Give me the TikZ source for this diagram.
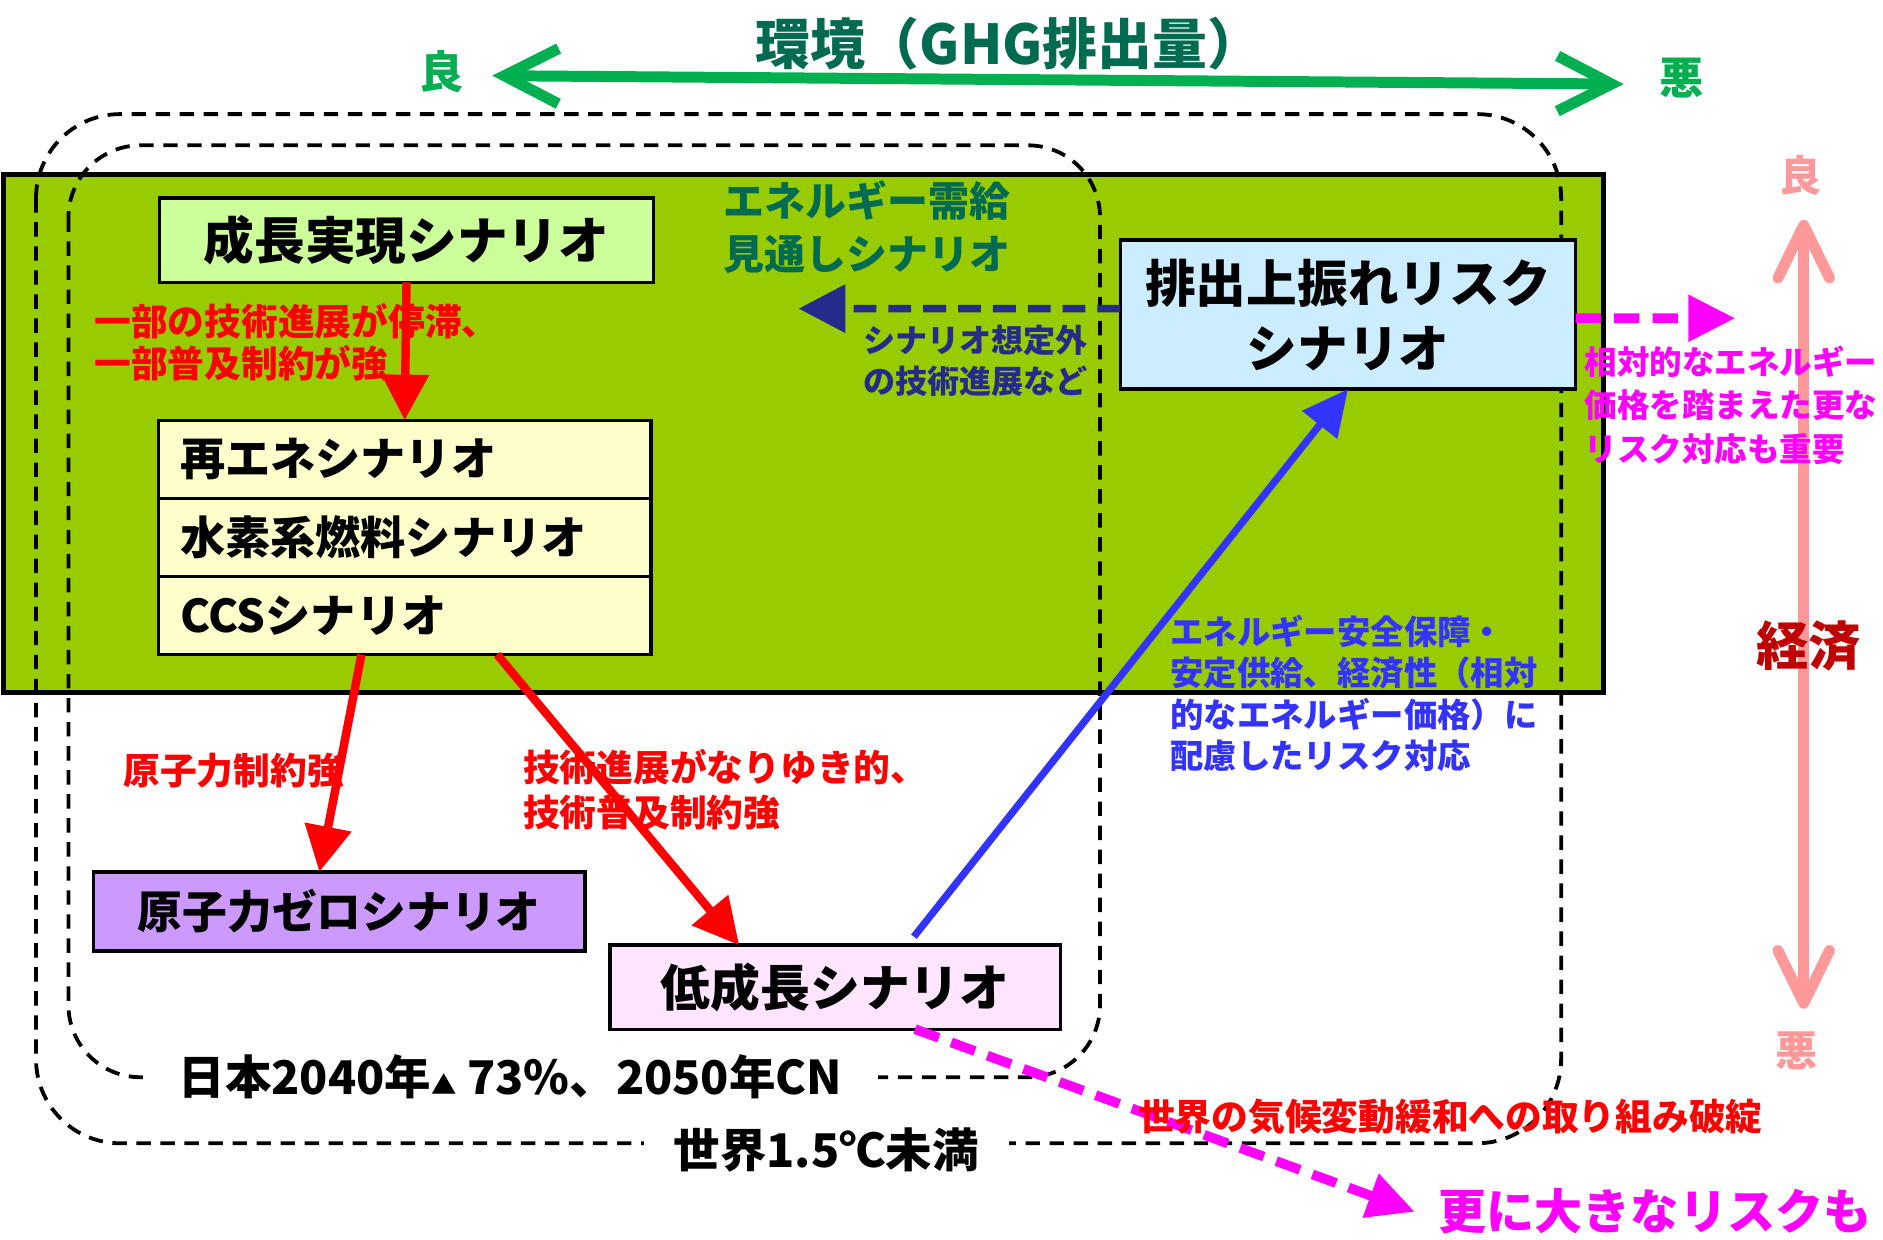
\documentclass[tikz,border=0pt]{standalone}
\usepackage{fontspec}
\setmainfont{Noto Sans CJK JP}
\usepackage{tikz}
\usetikzlibrary{arrows.meta, positioning, calc}
\definecolor{fieldgreen}{HTML}{99CC00}
\definecolor{axisgreen}{HTML}{00B050}
\definecolor{titlegreen}{HTML}{006B50}
\definecolor{navyline}{HTML}{262A8A}
\definecolor{riskblue}{HTML}{3333FF}
\definecolor{econpink}{HTML}{FF9999}
\definecolor{econred}{HTML}{C00000}
\definecolor{hotmagenta}{HTML}{FF00FF}
\definecolor{growfill}{HTML}{CCFF99}
\definecolor{techfill}{HTML}{FFFFCC}
\definecolor{riskfill}{HTML}{CCECFF}
\definecolor{nucfill}{HTML}{CC99FF}
\definecolor{lowfill}{HTML}{FFE5FF}

\begin{document}
\begin{tikzpicture}[x=0.01cm, y=-0.01cm, font=\bfseries,
    scenbox/.style={draw=black, line width=0.8pt, inner sep=0pt, outer sep=0pt, text=black},
    techbox/.style={scenbox, fill=techfill, minimum width=4.1cm, minimum height=0.65cm, text width=3.74cm, inner xsep=0.18cm, align=left, font=\bfseries\fontsize{10.7}{12}\selectfont},
    note/.style={inner sep=0pt, anchor=west, align=left},
    zone/.style={black, line width=0.9pt, dash pattern=on 0.12cm off 0.08cm},
    zonelabel/.style={fill=white, inner ysep=0.05cm, font=\bfseries\fontsize{11}{13}\selectfont},
    push/.style={red, line width=2pt, -{Triangle[length=0.38cm, width=0.38cm]}},
    hedge/.style={riskblue, line width=1.7pt, -{Triangle[length=0.38cm, width=0.36cm]}},
    outside/.style={navyline, line width=1.8pt, dash pattern=on 0.19cm off 0.1cm, -{Triangle[length=0.39cm, width=0.39cm]}},
    worsen/.style={hotmagenta, line width=2.3pt, dash pattern=on 0.21cm off 0.11cm, -{Triangle[length=0.39cm, width=0.37cm]}}]
  \useasboundingbox (0,0) rectangle (1568,1032);

  % shaded zone of the outlook scenarios
  \draw[fill=fieldgreen, line width=1.2pt] (3,145) rectangle (1335,577);
  \draw[zone, rounded corners=0.7cm] (30,95) rectangle (1300,952);
  \draw[zone, rounded corners=0.6cm] (57,121) rectangle (916,897);
  \node[zonelabel, inner xsep=0.3cm] (jpn) at (425,897) {日本2040年{\fontsize{6}{7}\selectfont▲} 73\%、2050年CN};
  \node[zonelabel, inner xsep=0.25cm] (world) at (688,958) {世界1.5℃未満};

  % environment axis
  \node[text=titlegreen, font=\bfseries\fontsize{13}{15}\selectfont] (envtitle) at (840,36) {環境（GHG排出量）};
  \node[text=axisgreen, font=\bfseries\fontsize{10.5}{12}\selectfont] (envgood) at (368,60) {良};
  \node[text=axisgreen, font=\bfseries\fontsize{10.5}{12}\selectfont] (envbad) at (1400,65) {悪};
  \coordinate (envL) at (410,63);
  \coordinate (envR) at (1352,70);
  \draw[axisgreen, line width=2.6pt, {Straight Barb[length=0.45cm, width=0.46cm]}-{Straight Barb[length=0.45cm, width=0.46cm]}] (envL) -- (envR);

  % economy axis
  \coordinate (ecoT) at (1502,183);
  \coordinate (ecoB) at (1502,840);
  \draw[econpink, line width=2.6pt, {Straight Barb[length=0.44cm, width=0.43cm, round]}-{Straight Barb[length=0.44cm, width=0.43cm, round]}] (ecoT) -- (ecoB);
  \node[text=econpink, font=\bfseries\fontsize{10}{12}\selectfont] (ecogood) at (1499,146) {良};
  \node[text=econpink, font=\bfseries\fontsize{10}{12}\selectfont] (ecobad) at (1496,875) {悪};
  \node[text=econred, font=\bfseries\fontsize{12.4}{14}\selectfont] (econ) at (1506,538) {経済};

  % scenarios
  \node[scenbox, fill=growfill, minimum width=4.11cm, minimum height=0.7cm, font=\bfseries\fontsize{12}{14}\selectfont] (grow) at (338.5,200) {成長実現シナリオ};
  \node[techbox] (ren) at (337,382.5) {再エネシナリオ};
  \node[techbox, below=0pt of ren] (hyd) {水素系燃料シナリオ};
  \node[techbox, below=0pt of hyd] (ccs) {CCSシナリオ};
  \node[scenbox, fill=riskfill, minimum width=3.79cm, minimum height=1.24cm, align=center, font=\bfseries\fontsize{12}{15.4}\selectfont] (risk) at (1122.5,262) {排出上振れリスク\\シナリオ};
  \node[scenbox, fill=nucfill, minimum width=4.09cm, minimum height=0.66cm, font=\bfseries\fontsize{10.6}{12}\selectfont] (nuc) at (282.5,759) {原子力ゼロシナリオ};
  \node[scenbox, fill=lowfill, minimum width=3.75cm, minimum height=0.7cm, font=\bfseries\fontsize{11.8}{14}\selectfont] (low) at (695.5,822) {低成長シナリオ};

  % connectors
  \coordinate (navyend) at (665,257);
  \coordinate (magend) at (1445,265);
  \coordinate (worse) at (1178,1009);
  \draw[push] (grow.south) -- (ren.north);
  \draw[push] ([xshift=-0.36cm]ccs.south) -- ([xshift=-0.165cm]nuc.north);
  \draw[push] ([xshift=0.77cm]ccs.south) -- ([xshift=-0.8cm]low.north);
  \draw[hedge] ([xshift=0.655cm, yshift=0.07cm]low.north) -- (risk.south);
  \draw[outside] ([yshift=0.05cm]risk.west) -- (navyend);
  \draw[worsen] ([yshift=-0.03cm]risk.east) -- (magend);
  \draw[worsen] ([xshift=0.665cm]low.south) -- (worse);

  % notes
  \node[note, text=titlegreen, font=\bfseries\fontsize{9.7}{12.5}\selectfont] (outlook) at (602,189) {エネルギー需給\\見通しシナリオ};
  \node[note, text=red, font=\bfseries\fontsize{8.7}{9.8}\selectfont] (stall) at (78,285) {一部の技術進展が停滞、\\一部普及制約が強};
  \node[note, text=navyline, font=\bfseries\fontsize{7.6}{9.9}\selectfont] (unforeseen) at (718,300.5) {シナリオ想定外\\の技術進展など};
  \node[note, text=hotmagenta, font=\bfseries\fontsize{7.7}{10.2}\selectfont] (relprice) at (1319,337.5) {相対的なエネルギー\\価格を踏まえた更な\\リスク対応も重要};
  \node[note, text=riskblue, font=\bfseries\fontsize{7.9}{9.8}\selectfont] (security) at (974,577.5) {エネルギー安全保障・\\安定供給、経済性（相対\\的なエネルギー価格）に\\配慮したリスク対応};
  \node[note, text=red, font=\bfseries\fontsize{8.7}{10}\selectfont] (nuclimit) at (102,642) {原子力制約強};
  \node[note, text=red, font=\bfseries\fontsize{8.7}{10.5}\selectfont] (drift) at (435,657.5) {技術進展がなりゆき的、\\技術普及制約強};
  \node[note, text=red, font=\bfseries\fontsize{8.7}{10}\selectfont] (collapse) at (947,930) {世界の気候変動緩和への取り組み破綻};
  \node[note, text=hotmagenta, font=\bfseries\fontsize{11.4}{13}\selectfont] (bigger) at (1197,1009) {更に大きなリスクも};
\end{tikzpicture}
\end{document}
